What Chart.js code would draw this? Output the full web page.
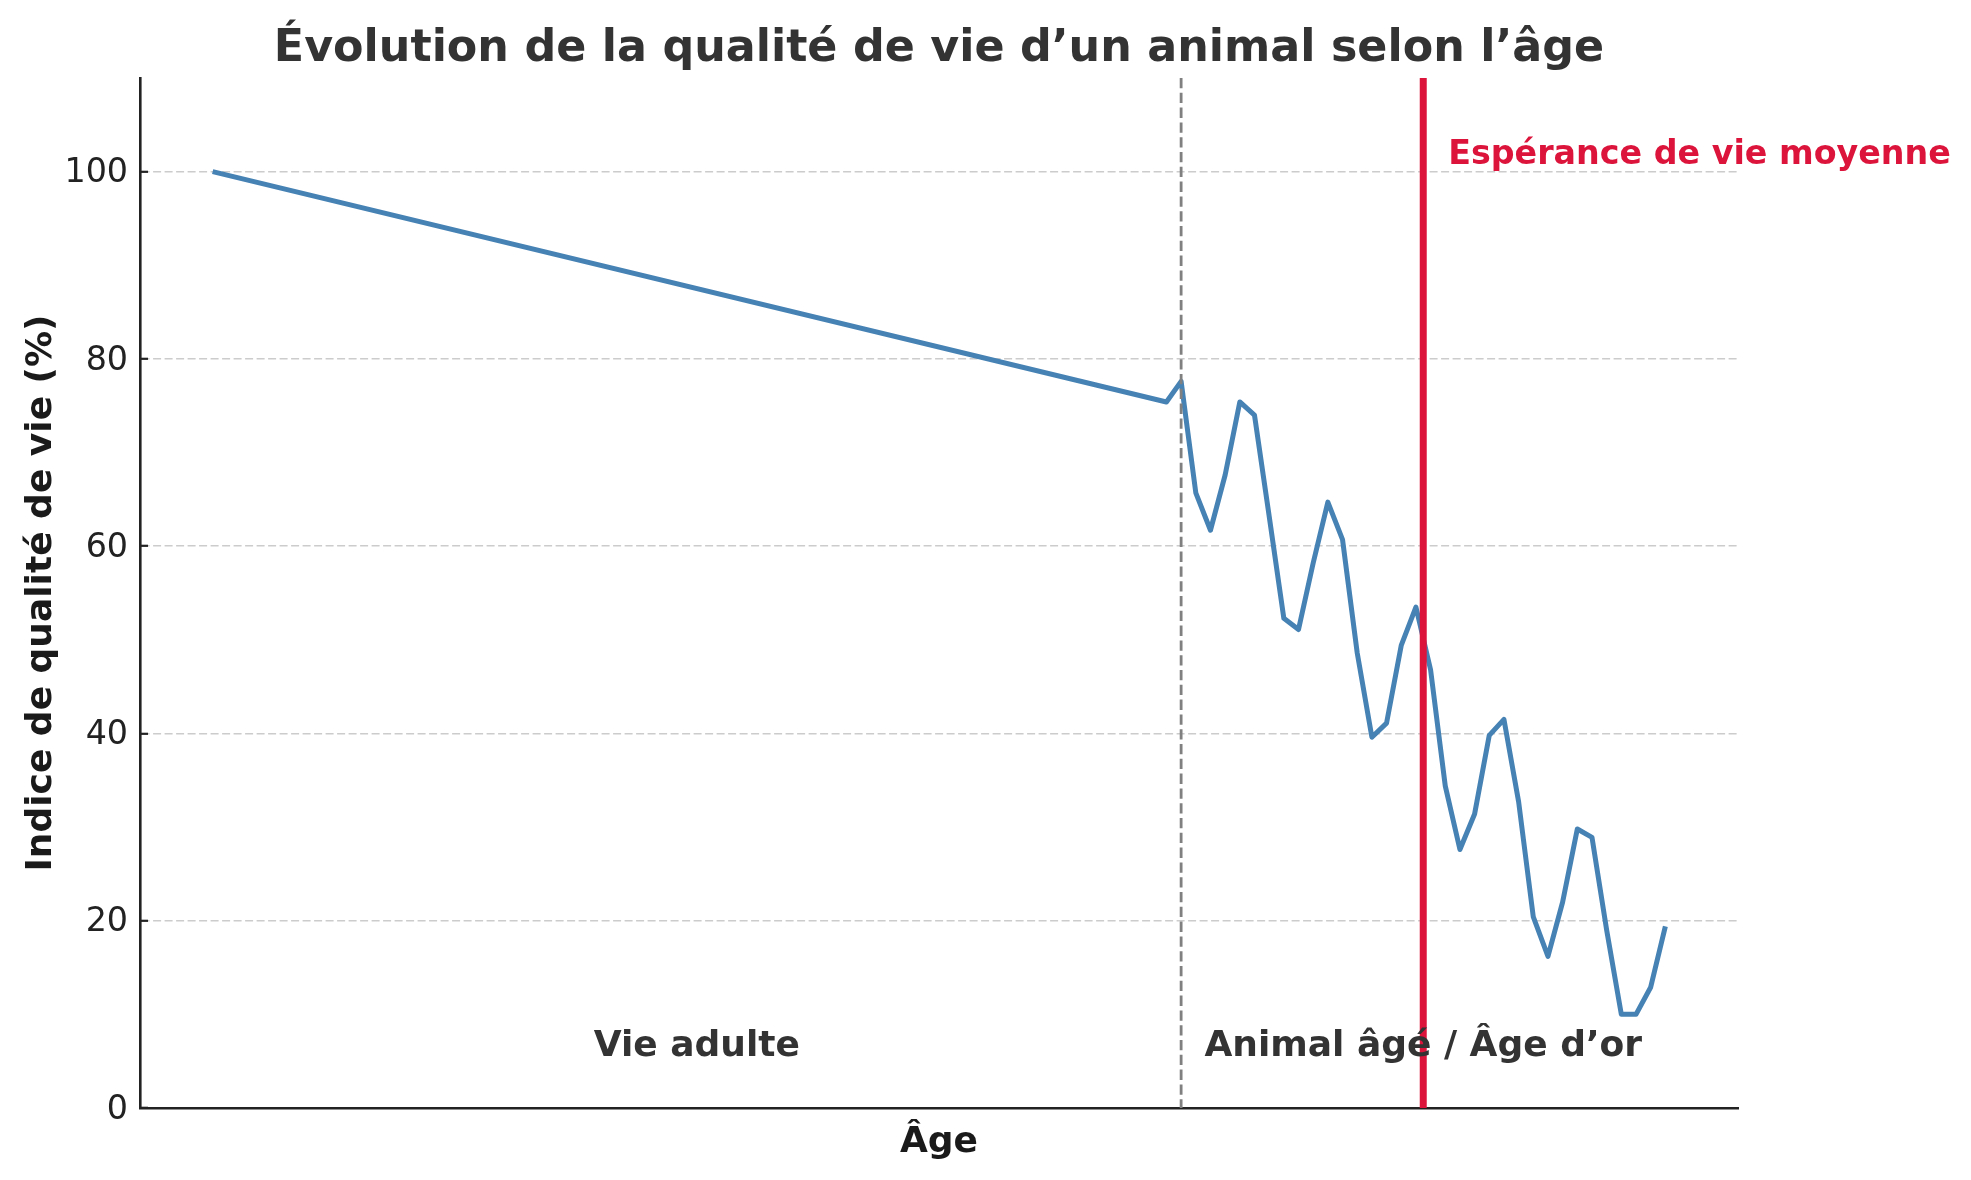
<!DOCTYPE html>
<html><head><meta charset="utf-8">
<script src="https://cdn.jsdelivr.net/npm/chart.js@4.4.1/dist/chart.umd.min.js"></script>
<style>html,body{margin:0;padding:0;background:#fff}#wrap{width:1971px;height:1180px}</style>
</head><body><div id="wrap"><canvas id="c" width="1971" height="1180"></canvas></div>
<script>
// ---- data ----
const ages = [0, 65, 66, 67, 68, 69, 70, 71, 72, 73, 74, 75, 76, 77, 78, 79, 80, 81, 82, 83, 84,
  85, 86, 87, 88, 89, 90, 91, 92, 93, 94, 95, 96, 97, 98, 99];
const quality = [100, 75.4, 77.6, 65.7, 61.7, 67.6, 75.4, 74.0, 63.2, 52.3, 51.1, 58.2, 64.7, 60.7, 48.6, 39.6, 41.1,
  49.4, 53.5, 46.8, 34.4, 27.6, 31.4, 39.8, 41.5, 32.7, 20.4, 16.2, 22.0, 29.8, 28.9, 19.0, 10.0, 10.0, 12.9, 19.4];
const yTickValues = [0, 20, 40, 60, 80, 100];
const yRange = [0, 110];
const xRange = [-4.95, 103.95];
const adultEndAge = 66;
const lifeExpectancyAge = 82.5;
const lifeExpectancyLabel = 'Espérance de vie moyenne';
const lifeExpectancyLabelPos = [84.2, 100.8];
const phaseLabels = ['Vie adulte', 'Animal âgé / Âge d’or'];
const phaseLabelAges = [33, 82.5];
const phaseLabelY = 5.5;

const FONT = "'DejaVu Sans', sans-serif";

const annotations = {
  id: 'annotations',
  afterDatasetsDraw(chart) {
    const {ctx, chartArea: a, scales: {x, y}} = chart;
    ctx.save();
    // dashed boundary
    ctx.strokeStyle = '#808080';
    ctx.lineWidth = 2.8;
    ctx.setLineDash([10.3, 4.5]);
    let px = x.getPixelForValue(adultEndAge);
    ctx.beginPath(); ctx.moveTo(px, a.top); ctx.lineTo(px, a.bottom); ctx.stroke();
    // life expectancy
    ctx.setLineDash([]);
    ctx.strokeStyle = '#DC143C';
    ctx.lineWidth = 7;
    px = x.getPixelForValue(lifeExpectancyAge);
    ctx.beginPath(); ctx.moveTo(px, a.top); ctx.lineTo(px, a.bottom); ctx.stroke();
    // texts
    ctx.font = `bold 33.3px ${FONT}`;
    ctx.fillStyle = '#DC143C';
    ctx.textAlign = 'left';
    ctx.textBaseline = 'alphabetic';
    ctx.fillText(lifeExpectancyLabel, x.getPixelForValue(lifeExpectancyLabelPos[0]), y.getPixelForValue(lifeExpectancyLabelPos[1]));
    ctx.font = `bold 36px ${FONT}`;
    ctx.fillStyle = '#333333';
    ctx.textAlign = 'center';
    phaseLabels.forEach((t, i) => {
      ctx.fillText(t, x.getPixelForValue(phaseLabelAges[i]), y.getPixelForValue(phaseLabelY));
    });
    ctx.restore();
  }
};

new Chart(document.getElementById('c'), {
  type: 'line',
  data: {
    datasets: [{
      data: ages.map((a, i) => ({x: a, y: quality[i]})),
      borderColor: '#4682B4',
      borderWidth: 5,
      pointRadius: 0,
      tension: 0,
      fill: false,
      borderJoinStyle: 'round',
      borderCapStyle: 'butt'
    }]
  },
  options: {
    responsive: false,
    devicePixelRatio: 1,
    animation: false,
    layout: {padding: {left: 0, right: 233, top: 0, bottom: 0}},
    plugins: {
      legend: {display: false},
      tooltip: {enabled: false},
      title: {
        display: true,
        fullSize: false,
        text: 'Évolution de la qualité de vie d’un animal selon l’âge',
        color: '#333333',
        font: {family: FONT, size: 44.4, weight: 'bold', lineHeight: 1.2},
        padding: {top: 22.5, bottom: 2.2}
      }
    },
    scales: {
      x: {
        type: 'linear',
        min: xRange[0], max: xRange[1],
        ticks: {display: false},
        grid: {display: true, color: 'rgba(0,0,0,0)', drawTicks: false},
        border: {display: true, color: '#222222', width: 2.6},
        title: {display: true, text: 'Âge', color: '#1a1a1a',
          font: {family: FONT, size: 36, weight: 'bold', lineHeight: 1.2},
          padding: {top: 0, bottom: 15.5}},
        afterFit(s) { s.height = 72; }
      },
      y: {
        type: 'linear',
        min: yRange[0], max: yRange[1],
        afterBuildTicks(s) { s.ticks = yTickValues.map(v => ({value: v})); },
        ticks: {color: '#222222', font: {family: FONT, size: 33.3}, padding: 20, labelOffset: 2},
        grid: {color: '#cccccc', lineWidth: 1.6, tickColor: '#222222', tickLength: -8, tickWidth: 2.2, tickBorderDash: []},
        border: {display: true, color: '#222222', width: 2.6, dash: [8, 3.5]},
        title: {display: true, text: 'Indice de qualité de vie (%)', color: '#1a1a1a',
          font: {family: FONT, size: 36, weight: 'bold', lineHeight: 1.2},
          padding: {top: 20, bottom: 0}},
        afterFit(s) { s.width = 140; }
      }
    }
  },
  plugins: [annotations]
});
</script></body></html>
